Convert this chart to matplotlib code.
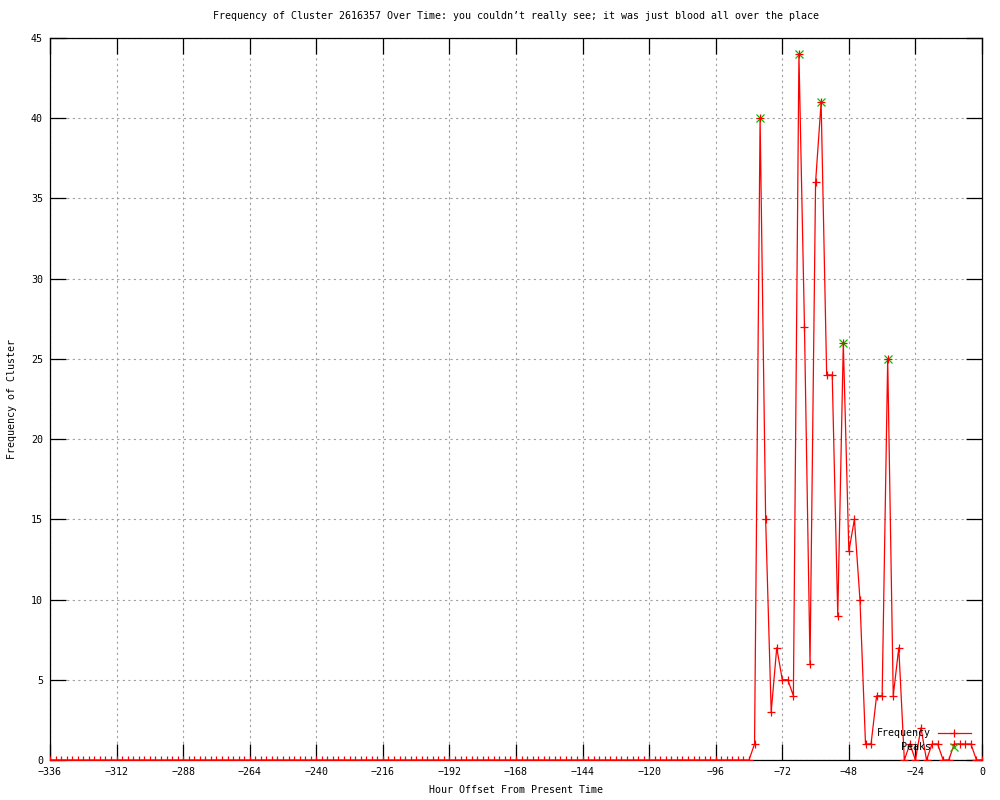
import numpy as np
import matplotlib
matplotlib.use("Agg")
import matplotlib.pyplot as plt

# hourly buckets, every 2 hours from -336 to 0
hours = np.arange(-336, 1, 2)

# nothing recorded before -84
freq_early = [
    0, 0, 0, 0, 0, 0, 0, 0, 0, 0, 0, 0, 0, 0, 0, 0,
    0, 0, 0, 0, 0, 0, 0, 0, 0, 0, 0, 0, 0, 0, 0, 0,
    0, 0, 0, 0, 0, 0, 0, 0, 0, 0, 0, 0, 0, 0, 0, 0,
    0, 0, 0, 0, 0, 0, 0, 0, 0, 0, 0, 0, 0, 0, 0, 0,
    0, 0, 0, 0, 0, 0, 0, 0, 0, 0, 0, 0, 0, 0, 0, 0,
    0, 0, 0, 0, 0, 0, 0, 0, 0, 0, 0, 0, 0, 0, 0, 0,
    0, 0, 0, 0, 0, 0, 0, 0, 0, 0, 0, 0, 0, 0, 0, 0,
    0, 0, 0, 0, 0, 0, 0, 0, 0, 0, 0, 0, 0, 0, 0,
]
# -82 .. 0
freq_late = [1, 40, 15, 3, 7, 5, 5, 4, 44, 27, 6, 36, 41, 24, 24, 9,
             26, 13, 15, 10, 1, 1, 4, 4, 25, 4, 7, 0, 1, 0, 2, 0,
             1, 1, 0, 0, 1, 1, 1, 1, 0, 0]
frequency = freq_early + freq_late

peak_hours = [-80, -66, -58, -50, -34]
peak_values = [40, 44, 41, 26, 25]

title = ("Frequency of Cluster 2616357 Over Time: you couldn\u2019t really see; "
         "it was just blood all over the place")

plt.rcParams['font.family'] = ['DejaVu Sans Mono']
fs = 7.2

fig = plt.figure(figsize=(10, 8), dpi=100)
ax = fig.add_axes([0.05, 0.05, 0.932, 0.9025])

ax.plot(hours, frequency, color='#ff0000', lw=0.9, marker='+', ms=6, mew=0.9,
        label='Frequency', zorder=3)
ax.plot(peak_hours, peak_values, ls='none', color='#00c000', marker='x', ms=5.5,
        mew=0.9, label='Peaks', zorder=2)

ax.set_xlim(-336, 0)
ax.set_ylim(0, 45)
ax.set_xticks(np.arange(-336, 1, 24))
ax.set_yticks(np.arange(0, 46, 5))
ax.tick_params(direction='in', length=11.5, width=0.9, labelsize=fs,
               top=True, right=True, pad=5, color='black')
ax.grid(True, color='#a0a0a0', ls=(0, (2, 3)), lw=0.8)
for s in ax.spines.values():
    s.set_linewidth(0.9)

ax.set_title(title, fontsize=fs, pad=14)
ax.set_xlabel('Hour Offset From Present Time', fontsize=fs, labelpad=6)
ax.set_ylabel('Frequency of Cluster', fontsize=fs, labelpad=10)

ax.legend(loc='lower right', bbox_to_anchor=(0.988, 0.011), frameon=False,
          markerfirst=False, numpoints=1, fontsize=fs, handlelength=3.3,
          handletextpad=0.7, labelspacing=0.4, borderpad=0, borderaxespad=0)

fig.savefig('out.png', dpi=100)
